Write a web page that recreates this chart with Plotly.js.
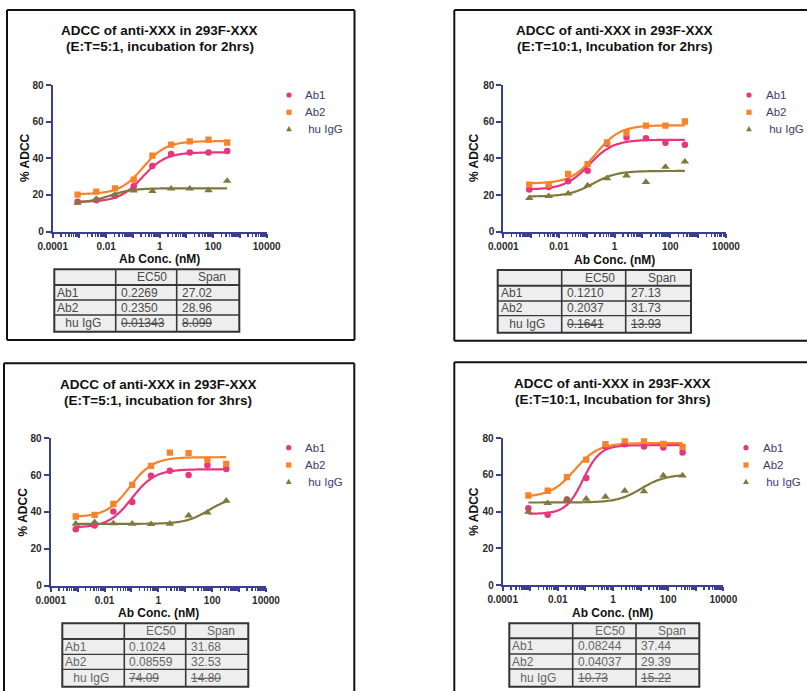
<!DOCTYPE html>
<html><head><meta charset="utf-8">
<script src="https://cdn.plot.ly/plotly-3.0.1.min.js"></script>
<style>html,body{margin:0;padding:0;background:#fff;overflow:hidden;width:807px;height:691px}</style>
</head><body><div id="chart" style="width:807px;height:691px;overflow:hidden"></div>
<script>
// ---------------- DATA ----------------
const seriesNames = ['Ab1', 'Ab2', '\u00a0hu IgG'];
const conc = [0.000853, 0.00427, 0.0213, 0.107, 0.533, 2.67, 13.3, 66.7, 333]; // nM

const titleLine1 = 'ADCC of anti-XXX in 293F-XXX';
const titleLine2 = ['(E:T=5:1, incubation for 2hrs)', '(E:T=10:1, Incubation for 2hrs)',
                    '(E:T=5:1, incubation for 3hrs)', '(E:T=10:1, Incubation for 3hrs)'];

// panel 1 (E:T=5:1, 2 h)
const p1_Ab1 = [16.2, 17.1, 19.5, 24.7, 35.7, 42.3, 43.2, 43.2, 43.9];
const p1_Ab2 = [20.1, 21.8, 23.5, 28.3, 41.4, 47.4, 49.2, 50.1, 48.6];
const p1_IgG = [15.6, 17.8, 20.0, 22.3, 22.0, 23.4, 23.4, 22.5, 27.6];
// panel 2 (E:T=10:1, 2 h)
const p2_Ab1 = [23.0, 24.4, 27.5, 33.3, 48.0, 51.4, 51.0, 48.5, 47.4];
const p2_Ab2 = [25.7, 25.7, 31.5, 36.9, 48.7, 53.8, 57.9, 57.9, 60.1];
const p2_IgG = [18.3, 19.4, 20.8, 25.2, 29.1, 30.6, 27.1, 35.3, 38.2];
// panel 3 (E:T=5:1, 3 h)
const p3_Ab1 = [30.6, 32.6, 40.2, 45.4, 59.7, 62.3, 60.1, 65.3, 63.3];
const p3_Ab2 = [37.5, 38.4, 44.3, 54.7, 65.0, 72.2, 71.9, 68.4, 66.1];
const p3_IgG = [33.5, 34.4, 33.7, 33.5, 33.3, 33.5, 38.0, 39.6, 46.0];
// panel 4 (E:T=10:1, 3 h)
const p4_Ab1 = [41.9, 38.3, 46.6, 58.3, 75.5, 76.8, 75.5, 75.0, 72.2];
const p4_Ab2 = [48.8, 51.4, 58.8, 68.4, 76.8, 78.8, 78.6, 76.9, 75.3];
const p4_IgG = [39.9, 44.6, 46.6, 47.0, 48.1, 51.4, 51.0, 59.7, 59.7];

// fit tables (EC50, Span) as shown
const p1_EC50 = ['0.2269', '0.2350', '0.01343'];  const p1_Span = ['27.02', '28.96', '8.099'];
const p2_EC50 = ['0.1210', '0.2037', '0.1641'];   const p2_Span = ['27.13', '31.73', '13.93'];
const p3_EC50 = ['0.1024', '0.08559', '74.09'];   const p3_Span = ['31.68', '32.53', '14.80'];
const p4_EC50 = ['0.08244', '0.04037', '10.73'];  const p4_Span = ['37.44', '29.39', '15.22'];
// fit bottoms and Hill slopes
const p1_Bottom = [16.2, 20.4, 15.5]; const p1_Hill = [1, 1, 1];
const p2_Bottom = [23.0, 26.3, 19.2]; const p2_Hill = [1, 1, 1];
const p3_Bottom = [31.5, 37.2, 33.5]; const p3_Hill = [1, 1, 1];
const p4_Bottom = [38.8, 48.0, 45.0]; const p4_Hill = [1.4, 1, 1];

const xTickVals = [1e-4, 1e-3, 1e-2, 1e-1, 1, 10, 100, 1000, 1e4];
const xTickText = ['0.0001', '', '0.01', '', '1', '', '100', '', '10000'];
const yTickVals = [0, 20, 40, 60, 80];

// ---------------- STYLE ----------------
const W = 807, H = 691;
const FONT = 'Liberation Sans, Arial, sans-serif';
const colors = ['#e8357c', '#f7842a', '#7d7a3c'];
const symbols = ['circle', 'square', 'triangle-up'];
const msize = [6.5, 6.3, 7.5];
const AX = '#3b3f8f';
const X = px => px / W, Y = py => 1 - py / H;

const panels = [
  {data: [p1_Ab1, p1_Ab2, p1_IgG], ec: p1_EC50, sp: p1_Span, bot: p1_Bottom, hill: p1_Hill,
   x0: 52.7, x1: 266.7, yT: 85, yB: 231.5, tcx: 159.7, t1: 30.7, t2: 46, ytx: 25, yty: 158, xtx: 159.5, xty: 259,
   leg: {mx: 289, tx: 305, rows: [95, 112.3, 129]}, frame: [7, 10, 354.5, 340],
   tab: {x: [54.3, 115.7, 176.7, 239.3], y: [269.3, 285, 300, 315, 331.7]}},
  {data: [p2_Ab1, p2_Ab2, p2_IgG], ec: p2_EC50, sp: p2_Span, bot: p2_Bottom, hill: p2_Hill,
   x0: 503.3, x1: 726, yT: 85, yB: 231.7, tcx: 614, t1: 30.7, t2: 46, ytx: 474, yty: 158, xtx: 614.3, xty: 260,
   leg: {mx: 749, tx: 766, rows: [95, 112.3, 129]}, frame: [454.3, 10, null, 340.7],
   tab: {x: [497.7, 561.7, 625.7, 691], y: [270, 285.7, 301, 315.7, 332.7]}},
  {data: [p3_Ab1, p3_Ab2, p3_IgG], ec: p3_EC50, sp: p3_Span, bot: p3_Bottom, hill: p3_Hill,
   x0: 50.7, x1: 266, yT: 438.3, yB: 585.5, tcx: 158.2, t1: 384.3, t2: 400, ytx: 22.7, yty: 511.7, xtx: 158.3, xty: 613.3,
   leg: {mx: 288.7, tx: 305, rows: [447.7, 465, 481.7]}, frame: [4, 363.3, 354.3, null],
   tab: {x: [62.3, 124.3, 185.7, 248.3], y: [623.3, 639, 654.3, 669.3, 686.7]}},
  {data: [p4_Ab1, p4_Ab2, p4_IgG], ec: p4_EC50, sp: p4_Span, bot: p4_Bottom, hill: p4_Hill,
   x0: 502.7, x1: 723.3, yT: 438.3, yB: 585, tcx: 612.4, t1: 383.3, t2: 399, ytx: 474, yty: 511.7, xtx: 612.3, xty: 612.7,
   leg: {mx: 746, tx: 762.7, rows: [447.7, 465, 481.7]}, frame: [454.3, 362.3, null, null],
   tab: {x: [509.3, 572.7, 636, 699.3], y: [623.3, 638.3, 654, 669, 686.7]}}
];

const traces = [], shapes = [], annotations = [];
const layout = {
  width: W, height: H, margin: {l: 0, r: 0, t: 0, b: 0},
  paper_bgcolor: '#fff', plot_bgcolor: 'rgba(0,0,0,0)',
  font: {family: FONT}, showlegend: false
};

// fit curve evaluation grid (log-spaced between the lowest and highest concentration)
const nGrid = 120;
const lo = Math.log10(conc[0]), hi = Math.log10(conc[conc.length - 1]);
const grid = [];
for (let i = 0; i <= nGrid; i++) grid.push(Math.pow(10, lo + (hi - lo) * i / nGrid));

function pline(x0, y0, x1, y1, color, width) {
  shapes.push({type: 'line', xref: 'paper', yref: 'paper', x0: X(x0), y0: Y(y0), x1: X(x1), y1: Y(y1), line: {color: color, width: width}});
}

panels.forEach((p, k) => {
  const n = k === 0 ? '' : String(k + 1);
  const xa = 'x' + n, ya = 'y' + n;
  // fitted curves
  for (let s = 0; s < 3; s++) {
    const ec = parseFloat(p.ec[s]), span = parseFloat(p.sp[s]), b = p.bot[s], h = p.hill[s];
    traces.push({
      x: grid, y: grid.map(c => b + span / (1 + Math.pow(ec / c, h))),
      xaxis: xa, yaxis: ya, mode: 'lines', line: {color: colors[s], width: 2.2, shape: 'spline'},
      showlegend: false, hoverinfo: 'skip'
    });
  }
  // data points
  for (let s = 0; s < 3; s++) {
    traces.push({
      x: conc, y: p.data[s], xaxis: xa, yaxis: ya, mode: 'markers', name: seriesNames[s],
      showlegend: false, marker: {color: colors[s], symbol: symbols[s], size: msize[s]}
    });
  }
  layout['xaxis' + n] = {
    type: 'log', domain: [X(p.x0), X(p.x1)], range: [-4, 4], anchor: ya,
    showline: true, linecolor: AX, linewidth: 2, showgrid: false, zeroline: false,
    ticks: 'outside', ticklen: 4, tickwidth: 2, tickcolor: AX,
    tickmode: 'array', tickvals: xTickVals, ticktext: xTickText,
    tickfont: {family: FONT, size: 10, color: '#2a2a2a', weight: 'bold'},
    minor: {ticks: 'outside', ticklen: 3, tickwidth: 1.5, tickcolor: AX, dtick: 'D1', showgrid: false},
    fixedrange: true
  };
  layout['yaxis' + n] = {
    domain: [Y(p.yB), Y(p.yT)], range: [0, 80], anchor: xa,
    showline: true, linecolor: AX, linewidth: 2, showgrid: false, zeroline: false,
    ticks: 'outside', ticklen: 5, tickwidth: 2, tickcolor: AX,
    tickmode: 'array', tickvals: yTickVals,
    tickfont: {family: FONT, size: 10, color: '#2a2a2a', weight: 'bold'},
    fixedrange: true
  };
  // legend (symbols + labels)
  const L = p.leg;
  for (let s = 0; s < 3; s++) {
    const cy = L.rows[s], cx = L.mx, c = colors[s];
    if (s === 0) {
      shapes.push({type: 'circle', xref: 'paper', yref: 'paper', x0: X(cx - 2.6), x1: X(cx + 2.6), y0: Y(cy + 2.6), y1: Y(cy - 2.6), fillcolor: c, line: {width: 0}});
    } else if (s === 1) {
      shapes.push({type: 'rect', xref: 'paper', yref: 'paper', x0: X(cx - 2.6), x1: X(cx + 2.6), y0: Y(cy + 2.6), y1: Y(cy - 2.6), fillcolor: c, line: {width: 0}});
    } else {
      shapes.push({type: 'path', xref: 'paper', yref: 'paper', fillcolor: c, line: {width: 0},
        path: `M ${X(cx)} ${Y(cy - 3)} L ${X(cx + 2.9)} ${Y(cy + 2.3)} L ${X(cx - 2.9)} ${Y(cy + 2.3)} Z`});
    }
    annotations.push({text: seriesNames[s], x: X(L.tx - 2), y: Y(cy), xref: 'paper', yref: 'paper', showarrow: false,
      font: {family: FONT, size: 11.5, color: '#3c3c6e'}, xanchor: 'left', yanchor: 'middle'});
  }
  // frame (only the sides that fall inside the picture)
  const f = p.frame, fr = f[2] === null ? W : f[2], fb = f[3] === null ? H : f[3];
  pline(f[0], f[1], fr, f[1], '#111', 2);
  pline(f[0], f[1], f[0], fb, '#111', 2);
  if (f[2] !== null) pline(f[2], f[1], f[2], fb, '#111', 2);
  if (f[3] !== null) pline(f[0], f[3], fr, f[3], '#111', 2);
  // titles
  const tf = {family: FONT, size: 13.5, color: '#111', weight: 'bold'};
  annotations.push({text: titleLine1, x: X(p.tcx), y: Y(p.t1), xref: 'paper', yref: 'paper', showarrow: false, font: tf, xanchor: 'center', yanchor: 'middle'});
  annotations.push({text: titleLine2[k], x: X(p.tcx), y: Y(p.t2), xref: 'paper', yref: 'paper', showarrow: false, font: tf, xanchor: 'center', yanchor: 'middle'});
  const af = {family: FONT, size: 12, color: '#111', weight: 'bold'};
  annotations.push({text: '% ADCC', x: X(p.ytx), y: Y(p.yty), xref: 'paper', yref: 'paper', showarrow: false, font: af, textangle: -90, xanchor: 'center', yanchor: 'middle'});
  annotations.push({text: 'Ab Conc. (nM)', x: X(p.xtx), y: Y(p.xty), xref: 'paper', yref: 'paper', showarrow: false, font: af, xanchor: 'center', yanchor: 'middle'});
  // table
  const tx = p.tab.x, ty = p.tab.y;
  const tcol = k < 2 ? '#4a4a4a' : '#666';
  shapes.push({type: 'rect', xref: 'paper', yref: 'paper', x0: X(tx[0]), x1: X(tx[3]), y0: Y(ty[4]), y1: Y(ty[0]),
    fillcolor: '#eeeeee', line: {color: '#333', width: 2}, layer: 'below'});
  [tx[1], tx[2]].forEach(v => pline(v, ty[0], v, ty[4], '#3a3a3a', 1.6));
  [ty[1], ty[2], ty[3]].forEach((v, i) => pline(tx[0], v, tx[3], v, '#3a3a3a', i === 0 ? 2 : 1.3));
  const cf = {family: FONT, size: 12, color: tcol};
  const rowMid = i => (ty[i] + ty[i + 1]) / 2;
  annotations.push({text: 'EC50', x: X((tx[1] + tx[2]) / 2 + 6), y: Y(rowMid(0)), xref: 'paper', yref: 'paper', showarrow: false, font: cf, xanchor: 'center', yanchor: 'middle'});
  annotations.push({text: 'Span', x: X((tx[2] + tx[3]) / 2 + 4), y: Y(rowMid(0)), xref: 'paper', yref: 'paper', showarrow: false, font: cf, xanchor: 'center', yanchor: 'middle'});
  for (let s = 0; s < 3; s++) {
    const strike = s === 2;
    annotations.push({text: seriesNames[s], x: X(tx[0] + (strike ? 6 : 1)), y: Y(rowMid(s + 1)), xref: 'paper', yref: 'paper', showarrow: false, font: cf, xanchor: 'left', yanchor: 'middle'});
    annotations.push({text: strike ? '<s>' + p.ec[s] + '</s>' : p.ec[s], x: X(tx[1] + 3), y: Y(rowMid(s + 1)), xref: 'paper', yref: 'paper', showarrow: false, font: cf, xanchor: 'left', yanchor: 'middle'});
    annotations.push({text: strike ? '<s>' + p.sp[s] + '</s>' : p.sp[s], x: X(tx[2] + 3), y: Y(rowMid(s + 1)), xref: 'paper', yref: 'paper', showarrow: false, font: cf, xanchor: 'left', yanchor: 'middle'});
  }
});

layout.shapes = shapes;
layout.annotations = annotations;
Plotly.newPlot('chart', traces, layout, {staticPlot: true, displayModeBar: false});
</script>
</body></html>
